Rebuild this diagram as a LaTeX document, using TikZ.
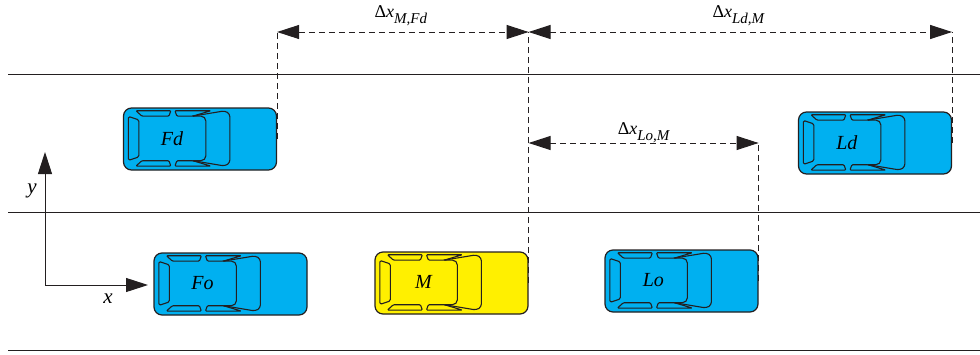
\documentclass[tikz,border=0pt]{standalone}
\usepackage{fontspec}
\setmainfont{Liberation Serif}
\usetikzlibrary{arrows.meta}

\definecolor{carblue}{RGB}{0,176,240}
\definecolor{caryellow}{RGB}{255,240,0}
\definecolor{ink}{RGB}{35,31,32}

\tikzset{
  car/.style={draw=ink, line width=1.2pt, rounded corners=8pt,
    minimum width=153pt, minimum height=62pt, inner sep=0pt},
  detail/.style={draw=ink, line width=1.1pt, line join=round},
  road/.style={draw=ink, line width=0.9pt},
  ext/.style={draw=ink, line width=1pt, dash pattern=on 6pt off 4pt},
  headtip/.tip={Triangle[length=22pt,width=14pt]},
  dimarrow/.style={ext, headtip-headtip},
  axis/.style={draw=ink, line width=1pt, -headtip},
  carlbl/.style={font=\fontsize{20}{24}\selectfont\itshape, inner sep=0pt},
  axislbl/.style={font=\fontsize{21}{24}\selectfont\itshape, inner sep=0pt},
  gaplbl/.style={font=\fontsize{18}{21}\selectfont\itshape, inner sep=0pt, anchor=base},
}

% gap symbol: Delta x with an italic subscript
\newcommand\gapsym[1]{{\upshape Δ}x\raisebox{-6pt}{\fontsize{15}{17}\selectfont #1}}

% top view of a car: #1 name, #2 centre, #3 body colour, #4 label
\newcommand\vehicle[4]{%
  \node[car, fill=#3] (#1) at (#2) {};
  \begin{scope}[shift={(#1.north west)}]
    % rear window
    \draw[detail, rounded corners=1.5pt] (5.5,9) -- (16,12.5) -- (16,49.5) -- (5.5,53) -- cycle;
    % side windows
    \draw[detail, rounded corners=1pt] (13,3.3) -- (48,3.3) -- (46,8.7) -- (19,8.7) -- cycle;
    \draw[detail, rounded corners=1pt] (13,58.7) -- (48,58.7) -- (46,53.3) -- (19,53.3) -- cycle;
    \draw[detail, rounded corners=1pt] (52,3.3) -- (88,3.3) -- (70,8.7) -- (54,8.7) -- cycle;
    \draw[detail, rounded corners=1pt] (52,58.7) -- (88,58.7) -- (70,53.3) -- (54,53.3) -- cycle;
    % roof front edge
    \draw[detail, rounded corners=5pt] (70,8.7) -- (83,8.7) -- (83,53.3) -- (70,53.3);
    % windscreen
    \draw[detail, rounded corners=3pt] (70,8.7) -- (102,3.4) -- (107,6.5) -- (107,55.5) -- (102,58.6) -- (70,53.3);
    \node[carlbl] (#1-label) at (49,31) {#4};
  \end{scope}}

\begin{document}
\begin{tikzpicture}[x=1pt, y=-1pt]
  \useasboundingbox (0,0) rectangle (980,354);

  % lane markings
  \coordinate (r1w) at (8,74);   \coordinate (r1e) at (980,74);
  \coordinate (r2w) at (8,212);  \coordinate (r2e) at (980,212);
  \coordinate (r3w) at (8,350);  \coordinate (r3e) at (980,350);
  \draw[road] (r1w) -- (r1e);
  \draw[road] (r2w) -- (r2e);
  \draw[road] (r3w) -- (r3e);

  % vehicles
  \vehicle{Fd}{200,139}{carblue}{Fd}
  \vehicle{Ld}{875,143}{carblue}{Ld}
  \vehicle{Fo}{230.5,284}{carblue}{Fo}
  \vehicle{M}{451.5,283}{caryellow}{M}
  \vehicle{Lo}{681.5,281}{carblue}{Lo}

  % coordinate axes
  \coordinate (O) at (45,285);
  \coordinate (xend) at (148,285);
  \coordinate (yend) at (45,152);
  \draw[axis] (O) -- (xend);
  \draw[axis] (O) -- (yend);
  \node[axislbl] (xlabel) at (108,299) {x};
  \node[axislbl] (ylabel) at (32,191) {y};

  % gap dimensions
  \coordinate (topline) at (0,32);
  \coordinate (midline) at (0,143);
  \draw[ext] (Fd.east) -- (Fd.east |- topline);
  \draw[ext] (M.east) -- (M.east |- topline);
  \draw[ext] (Ld.east) -- (Ld.east |- topline);
  \draw[ext] (Lo.east) -- (Lo.east |- midline);

  \draw[dimarrow] (Fd.east |- topline) -- (M.east |- topline)
    node[gaplbl, midway, yshift=15pt, xshift=-2pt] (dMFd) {\gapsym{M,Fd}};
  \draw[dimarrow] (M.east |- topline) -- (Ld.east |- topline)
    node[gaplbl, midway, yshift=15pt, xshift=-2pt] (dLdM) {\gapsym{Ld,M}};
  \draw[dimarrow] (M.east |- midline) -- (Lo.east |- midline)
    node[gaplbl, midway, yshift=9pt] (dLoM) {\gapsym{Lo,M}};
\end{tikzpicture}
\end{document}
